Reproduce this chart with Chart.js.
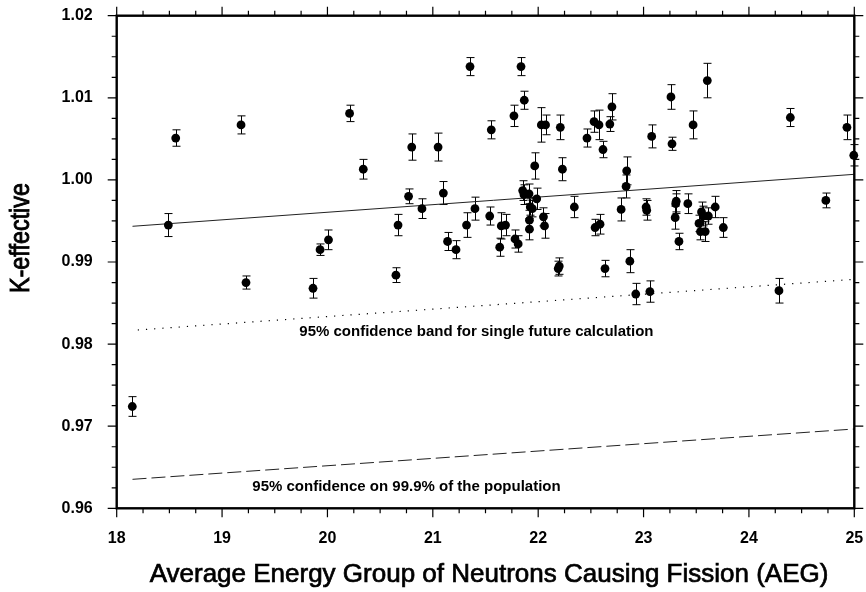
<!DOCTYPE html>
<html>
<head>
<meta charset="utf-8">
<script src="https://cdn.jsdelivr.net/npm/chart.js@4.4.1/dist/chart.umd.min.js"></script>
<style>
html,body{margin:0;padding:0;background:#fff;}
#wrap{width:866px;height:592px;position:relative;}
</style>
</head>
<body>
<div id="wrap"><canvas id="c" width="866" height="592"></canvas></div>
<script>
// ---- data ----
const aeg = [18.148,18.49,18.56,19.18,19.227,19.863,19.93,20.01,20.21,20.34,
  20.65,20.67,20.77,20.80,20.897,21.05,21.10,21.14,21.22,21.32,
  21.353,21.40,21.54,21.555,21.635,21.65,21.69,21.77,21.78,21.81,
  21.837,21.853,21.865,21.868,21.913,21.917,21.917,21.925,21.944,21.967,
  21.986,22.03,22.05,22.06,22.07,22.19,22.20,22.21,22.23,22.343,
  22.463,22.53,22.54,22.577,22.587,22.615,22.634,22.68,22.70,22.787,
  22.834,22.84,22.87,22.926,23.024,23.03,23.06,23.077,23.26,23.27,
  23.30,23.305,23.31,23.336,23.42,23.47,23.526,23.54,23.55,23.567,
  23.585,23.605,23.615,23.68,23.757,24.285,24.393,24.73,24.93,24.995];
const keff = [0.9724,0.9945,1.0051,1.0067,0.9875,0.9868,0.9915,0.9927,1.0081,1.0013,
  0.9884,0.9945,0.9980,1.0040,0.9965,1.0040,0.9984,0.9925,0.9915,0.9945,
  1.0138,0.9965,0.9956,1.0061,0.9918,0.9944,0.9945,1.0078,0.9928,0.9922,
  1.0138,0.9987,0.9982,1.0097,0.9983,0.9951,0.9940,0.9967,0.9965,1.0017,
  0.9977,1.0067,0.9955,0.9944,1.0067,0.9892,0.9895,1.0064,1.0013,0.9967,
  1.0051,1.0071,0.9942,1.0067,0.9946,1.0037,0.9892,1.0068,1.0089,0.9964,
  0.9992,1.0011,0.9901,0.9861,0.9967,0.9963,0.9864,1.0053,1.0101,1.0044,
  0.9954,0.9971,0.9974,0.9925,0.9971,1.0067,0.9947,0.9937,0.9961,0.9956,
  0.9937,1.0121,0.9956,0.9967,0.9942,0.9865,1.0076,0.9975,1.0064,1.0030];
const kerr = [0.0012,0.0014,0.0010,0.0011,0.0008,0.0012,0.0007,0.0012,0.0010,0.0012,
  0.0009,0.0013,0.0009,0.0016,0.0012,0.0017,0.0014,0.0011,0.0011,0.0015,
  0.0011,0.0014,0.0011,0.0011,0.0011,0.0016,0.0013,0.0013,0.0011,0.0010,
  0.0011,0.0012,0.0012,0.0011,0.0012,0.0012,0.0013,0.0010,0.0010,0.0016,
  0.0013,0.0021,0.0011,0.0015,0.0012,0.0009,0.0010,0.0015,0.0014,0.0013,
  0.0011,0.0013,0.0010,0.0018,0.0012,0.0010,0.0010,0.0009,0.0016,0.0014,
  0.0014,0.0017,0.0014,0.0013,0.0010,0.0012,0.0013,0.0014,0.0015,0.0008,
  0.0014,0.0012,0.0013,0.0010,0.0012,0.0017,0.0010,0.0010,0.0012,0.0012,
  0.0012,0.0021,0.0010,0.0013,0.0012,0.0015,0.0011,0.0009,0.0015,0.0013];

const fitX = [18.15, 25.0];   const fitY = [0.99435, 1.00068];
const band1X = [18.2, 25.0];  const band1Y = [0.98172, 0.98789];
const band2X = [18.15, 25.0]; const band2Y = [0.96353, 0.96966];

const xMin = 18, xMax = 25, xStep = 1, xMinor = 0.25;
const yMin = 0.96, yMax = 1.02, yStep = 0.01, yMinor = 0.0025;

const xTitle = 'Average Energy Group of Neutrons Causing Fission (AEG)';
const yTitle = 'K-effective';
const notes = [
  {text: '95% confidence band for single future calculation', x: 19.733, y: 0.98151},
  {text: '95% confidence on 99.9% of the population', x: 19.287, y: 0.96263}
];

// ---- build ----
const pts = aeg.map((x, i) => ({x: x, y: keff[i]}));
const toXY = (xs, ys) => xs.map((x, i) => ({x: x, y: ys[i]}));

const decor = {
  id: 'decor',
  beforeDatasetsDraw(chart) {
    const ctx = chart.ctx, xs = chart.scales.x, ys = chart.scales.y;
    ctx.save();
    ctx.strokeStyle = '#000';
    ctx.lineWidth = 1;
    ctx.beginPath();
    for (let i = 0; i < aeg.length; i++) {
      const px = Math.round(xs.getPixelForValue(aeg[i])) + 0.5;
      const t = ys.getPixelForValue(keff[i] + kerr[i]);
      const b = ys.getPixelForValue(keff[i] - kerr[i]);
      ctx.moveTo(px, t); ctx.lineTo(px, b);
      ctx.moveTo(px - 4, t); ctx.lineTo(px + 4, t);
      ctx.moveTo(px - 4, b); ctx.lineTo(px + 4, b);
    }
    ctx.stroke();
    ctx.restore();
  },
  afterDraw(chart) {
    const ctx = chart.ctx, xs = chart.scales.x, ys = chart.scales.y, a = chart.chartArea;
    ctx.save();
    ctx.strokeStyle = '#000';
    // frame
    ctx.lineWidth = 2.4;
    ctx.strokeRect(a.left, a.top, a.right - a.left, a.bottom - a.top);
    // ticks
    ctx.lineWidth = 1.2;
    ctx.beginPath();
    const nX = Math.round((xMax - xMin) / xMinor);
    for (let k = 0; k <= nX; k++) {
      const v = xMin + k * xMinor;
      const major = Math.abs(v - Math.round(v / xStep) * xStep) < 1e-9;
      const L = major ? 9 : 5;
      const px = xs.getPixelForValue(v);
      ctx.moveTo(px, a.bottom); ctx.lineTo(px, a.bottom + L);
      ctx.moveTo(px, a.top); ctx.lineTo(px, a.top - L);
    }
    const nY = Math.round((yMax - yMin) / yMinor);
    for (let k = 0; k <= nY; k++) {
      const major = k % Math.round(yStep / yMinor) === 0;
      const L = major ? 9 : 5;
      const py = ys.getPixelForValue(yMin + k * yMinor);
      ctx.moveTo(a.left, py); ctx.lineTo(a.left - L, py);
      ctx.moveTo(a.right, py); ctx.lineTo(a.right + L, py);
    }
    ctx.stroke();
    // notes
    ctx.fillStyle = '#000';
    ctx.font = 'bold 15px "Liberation Sans", Arial, sans-serif';
    ctx.textBaseline = 'middle';
    ctx.textAlign = 'left';
    notes.forEach(n => {
      ctx.fillText(n.text, xs.getPixelForValue(n.x), ys.getPixelForValue(n.y));
    });
    // x title
    ctx.font = '26px "Liberation Sans", Arial, sans-serif';
    ctx.textAlign = 'center';
    ctx.lineWidth = 0.7;
    ctx.fillText(xTitle, 489, 575);
    ctx.strokeText(xTitle, 489, 575);
    // y title
    ctx.save();
    ctx.translate(22, 238);
    ctx.rotate(-Math.PI / 2);
    ctx.font = '27px "Liberation Sans", Arial, sans-serif';
    const w = ctx.measureText(yTitle).width;
    ctx.scale(110 / w, 1);
    ctx.lineWidth = 0.9;
    ctx.fillText(yTitle, 0, 0);
    ctx.strokeText(yTitle, 0, 0);
    ctx.restore();
    ctx.restore();
  }
};

const tickFont = {family: '"Liberation Sans", Arial, sans-serif', size: 16, weight: 'bold'};

new Chart(document.getElementById('c'), {
  type: 'scatter',
  data: {
    datasets: [
      {type: 'line', data: toXY(fitX, fitY), borderColor: '#222', borderWidth: 1, pointRadius: 0, fill: false, order: 3},
      {type: 'line', data: toXY(band1X, band1Y), borderColor: '#000', borderWidth: 1.2, borderDash: [1.2, 7], pointRadius: 0, fill: false, order: 3},
      {type: 'line', data: toXY(band2X, band2Y), borderColor: '#222', borderWidth: 1, borderDash: [14, 5], pointRadius: 0, fill: false, order: 3},
      {label: 'K-effective', data: pts, backgroundColor: '#000', borderColor: '#000', borderWidth: 0, pointRadius: 4.4, pointHoverRadius: 4.4, clip: false, order: 1}
    ]
  },
  options: {
    responsive: false,
    animation: false,
    events: [],
    layout: {padding: {left: 0, right: 11.7, top: 15.7, bottom: 0}},
    plugins: {legend: {display: false}, tooltip: {enabled: false}, title: {display: false}},
    scales: {
      x: {
        type: 'linear', min: xMin, max: xMax,
        grid: {display: false, drawTicks: false}, border: {display: false},
        ticks: {stepSize: xStep, color: '#000', font: tickFont, padding: 21, maxRotation: 0,
          callback: v => String(v)},
        afterFit: s => { s.height = 592 - 508.3; s.paddingLeft = 0; s.paddingRight = 0; }
      },
      y: {
        type: 'linear', min: yMin, max: yMax,
        grid: {display: false, drawTicks: false}, border: {display: false},
        ticks: {stepSize: yStep, color: '#000', font: tickFont, padding: 24,
          callback: v => Number(v).toFixed(2)},
        afterFit: s => { s.width = 116.7; s.paddingTop = 0; s.paddingBottom = 0; }
      }
    }
  },
  plugins: [decor]
});
</script>
</body>
</html>
